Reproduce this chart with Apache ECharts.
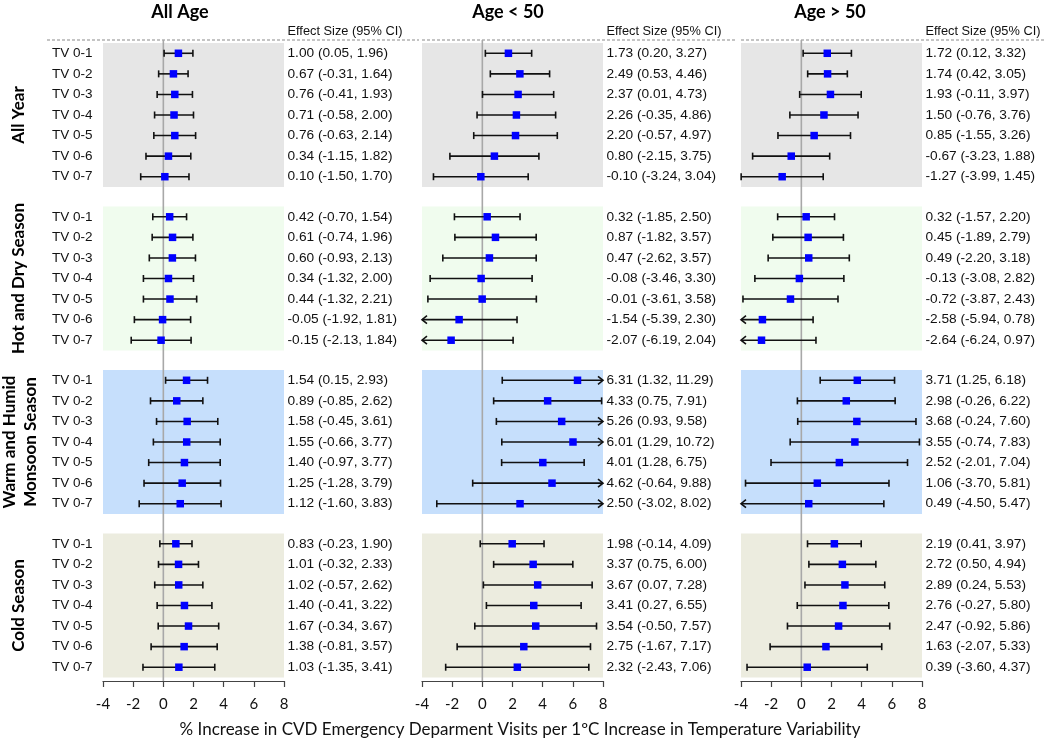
<!DOCTYPE html>
<html><head><meta charset="utf-8">
<script src="https://cdn.jsdelivr.net/npm/echarts@6/dist/echarts.min.js"></script>
<style>html,body{margin:0;padding:0;background:#fff}#c{width:1050px;height:739px}</style>
</head><body><div id="c"></div>
<script>
// ---------- data ----------
const panelTitles = ['All Age', 'Age < 50', 'Age > 50'];
const seasonLabels = [['All Year'], ['Hot and Dry Season'], ['Warm and Humid', 'Monsoon Season'], ['Cold Season']];
const lagLabels = ['TV 0-1', 'TV 0-2', 'TV 0-3', 'TV 0-4', 'TV 0-5', 'TV 0-6', 'TV 0-7'];
const xTicks = [-4, -2, 0, 2, 4, 6, 8];
const headerText = 'Effect Size (95% CI)';
const axisTitle = '% Increase in CVD Emergency Deparment Visits per 1\u00BAC Increase in Temperature Variability';

// [estimate, lower, upper]
const allAge_allYear = [[1.00,0.05,1.96],[0.67,-0.31,1.64],[0.76,-0.41,1.93],[0.71,-0.58,2.00],[0.76,-0.63,2.14],[0.34,-1.15,1.82],[0.10,-1.50,1.70]];
const allAge_hotDry  = [[0.42,-0.70,1.54],[0.61,-0.74,1.96],[0.60,-0.93,2.13],[0.34,-1.32,2.00],[0.44,-1.32,2.21],[-0.05,-1.92,1.81],[-0.15,-2.13,1.84]];
const allAge_warm    = [[1.54,0.15,2.93],[0.89,-0.85,2.62],[1.58,-0.45,3.61],[1.55,-0.66,3.77],[1.40,-0.97,3.77],[1.25,-1.28,3.79],[1.12,-1.60,3.83]];
const allAge_cold    = [[0.83,-0.23,1.90],[1.01,-0.32,2.33],[1.02,-0.57,2.62],[1.40,-0.41,3.22],[1.67,-0.34,3.67],[1.38,-0.81,3.57],[1.03,-1.35,3.41]];

const under50_allYear = [[1.73,0.20,3.27],[2.49,0.53,4.46],[2.37,0.01,4.73],[2.26,-0.35,4.86],[2.20,-0.57,4.97],[0.80,-2.15,3.75],[-0.10,-3.24,3.04]];
const under50_hotDry  = [[0.32,-1.85,2.50],[0.87,-1.82,3.57],[0.47,-2.62,3.57],[-0.08,-3.46,3.30],[-0.01,-3.61,3.58],[-1.54,-5.39,2.30],[-2.07,-6.19,2.04]];
const under50_warm    = [[6.31,1.32,11.29],[4.33,0.75,7.91],[5.26,0.93,9.58],[6.01,1.29,10.72],[4.01,1.28,6.75],[4.62,-0.64,9.88],[2.50,-3.02,8.02]];
const under50_cold    = [[1.98,-0.14,4.09],[3.37,0.75,6.00],[3.67,0.07,7.28],[3.41,0.27,6.55],[3.54,-0.50,7.57],[2.75,-1.67,7.17],[2.32,-2.43,7.06]];

const over50_allYear = [[1.72,0.12,3.32],[1.74,0.42,3.05],[1.93,-0.11,3.97],[1.50,-0.76,3.76],[0.85,-1.55,3.26],[-0.67,-3.23,1.88],[-1.27,-3.99,1.45]];
const over50_hotDry  = [[0.32,-1.57,2.20],[0.45,-1.89,2.79],[0.49,-2.20,3.18],[-0.13,-3.08,2.82],[-0.72,-3.87,2.43],[-2.58,-5.94,0.78],[-2.64,-6.24,0.97]];
const over50_warm    = [[3.71,1.25,6.18],[2.98,-0.26,6.22],[3.68,-0.24,7.60],[3.55,-0.74,7.83],[2.52,-2.01,7.04],[1.06,-3.70,5.81],[0.49,-4.50,5.47]];
const over50_cold    = [[2.19,0.41,3.97],[2.72,0.50,4.94],[2.89,0.24,5.53],[2.76,-0.27,5.80],[2.47,-0.92,5.86],[1.63,-2.07,5.33],[0.39,-3.60,4.37]];

const panelData = [
  [allAge_allYear, allAge_hotDry, allAge_warm, allAge_cold],
  [under50_allYear, under50_hotDry, under50_warm, under50_cold],
  [over50_allYear, over50_hotDry, over50_warm, over50_cold]
];

// ---------- layout / style ----------
const xMin = xTicks[0], xMax = xTicks[xTicks.length - 1];
const panelLeft = [103, 422, 741];
const panelW = 181;
const seasonTop0 = 43, seasonStep = 163.5, seasonH = 144;
const axisTop = 40, axisBottomY = 681;
const seasonBg = ['#E6E6E6', '#F0FCEE', '#C6DFFC', '#ECECDF'];
const numFont = '"Liberation Sans", Arial, sans-serif';
const calFont = 'Lato, "Open Sans", sans-serif';

function fmt(v) { return v.toFixed(2); }

const grids = [], xAxes = [], yAxes = [], series = [];

function renderCI(params, api) {
  const est = api.value(0), lo = api.value(1), hi = api.value(2), row = api.value(3);
  const y = api.coord([0, row])[1];
  const xl = api.coord([Math.max(lo, xMin), row])[0];
  const xr = api.coord([Math.min(hi, xMax), row])[0];
  const xe = api.coord([est, row])[0];
  const st = { stroke: '#111', lineWidth: 1.6, fill: null };
  const ch = [{ type: 'line', shape: { x1: xl, y1: y, x2: xr, y2: y }, style: st }];
  if (lo < xMin) ch.push({ type: 'polyline', shape: { points: [[xl + 5, y - 4], [xl, y], [xl + 5, y + 4]] }, style: st });
  else ch.push({ type: 'line', shape: { x1: xl, y1: y - 3.5, x2: xl, y2: y + 3.5 }, style: st });
  if (hi > xMax) ch.push({ type: 'polyline', shape: { points: [[xr - 5, y - 4], [xr, y], [xr - 5, y + 4]] }, style: st });
  else ch.push({ type: 'line', shape: { x1: xr, y1: y - 3.5, x2: xr, y2: y + 3.5 }, style: st });
  ch.push({ type: 'rect', shape: { x: xe - 3.75, y: y - 3.75, width: 7.5, height: 7.5 }, style: { fill: '#0000FF' } });
  return { type: 'group', children: ch };
}

function renderZero(params, api) {
  const p0 = api.coord([0, 0]), p1 = api.coord([0, 1]);
  return { type: 'line', shape: { x1: p0[0], y1: p0[1], x2: p1[0], y2: p1[1] }, style: { stroke: '#A8A8A8', lineWidth: 1.6 } };
}

for (let p = 0; p < 3; p++) {
  for (let s = 0; s < 4; s++) {
    const gi = grids.length;
    const rows = panelData[p][s];
    grids.push({ left: panelLeft[p], width: panelW, top: seasonTop0 + s * seasonStep, height: seasonH,
      show: true, backgroundColor: seasonBg[s], borderWidth: 0, containLabel: false });
    xAxes.push({ gridIndex: gi, type: 'value', min: xMin, max: xMax, show: false });
    const yl = yAxes.length;
    yAxes.push({ gridIndex: gi, type: 'category', inverse: true, data: lagLabels, position: 'left',
      axisLine: { show: false }, axisTick: { show: false }, splitLine: { show: false },
      axisLabel: { show: p === 0, align: 'left', margin: 51, fontSize: 13.5, color: '#111', fontFamily: numFont } });
    yAxes.push({ gridIndex: gi, type: 'category', inverse: true, position: 'right',
      data: rows.map(r => fmt(r[0]) + ' (' + fmt(r[1]) + ', ' + fmt(r[2]) + ')'),
      axisLine: { show: false }, axisTick: { show: false }, splitLine: { show: false },
      axisLabel: { show: true, align: 'left', margin: 3.5, fontSize: 13.7, color: '#111', fontFamily: numFont } });
    series.push({ type: 'custom', xAxisIndex: gi, yAxisIndex: yl, z: 5, clip: false, silent: true,
      renderItem: renderCI, encode: { x: [0, 1, 2], y: 3 },
      data: rows.map((r, i) => [r[0], r[1], r[2], i]) });
  }
}

for (let p = 0; p < 3; p++) {
  const gi = grids.length;
  grids.push({ left: panelLeft[p], width: panelW, top: axisTop, height: axisBottomY - axisTop, show: false });
  xAxes.push({ gridIndex: gi, type: 'value', min: xMin, max: xMax, interval: xTicks[1] - xTicks[0], position: 'bottom',
    axisLine: { show: true, lineStyle: { color: '#444', width: 1.2 } },
    axisTick: { show: true, length: 6, lineStyle: { color: '#444', width: 1.2 } },
    splitLine: { show: false },
    axisLabel: { fontSize: 15, color: '#111', margin: 16, fontFamily: calFont } });
  const yi = yAxes.length;
  yAxes.push({ gridIndex: gi, type: 'value', min: 0, max: 1, show: false });
  series.push({ type: 'custom', xAxisIndex: gi, yAxisIndex: yi, z: 3, clip: false, silent: true,
    renderItem: renderZero, data: [[0, 0]] });
}

const graphics = [];
panelTitles.forEach((t, p) => {
  const cx = [180, 508, 830][p];
  graphics.push({ type: 'text', x: cx, y: 12, style: { text: t, font: 'bold 18px ' + calFont, fill: '#000', textAlign: 'center', textVerticalAlign: 'middle' } });
  graphics.push({ type: 'text', x: panelLeft[p] + panelW + 3.5, y: 31, style: { text: headerText, font: '12.8px ' + numFont, fill: '#111', textAlign: 'left', textVerticalAlign: 'middle' } });
});
[[47, 419], [422, 737], [741, 1045]].forEach(seg => {
  graphics.push({ type: 'line', shape: { x1: seg[0], y1: 40, x2: seg[1], y2: 40 }, style: { stroke: '#8A8A8A', lineWidth: 1.2, lineDash: [3, 2] } });
});
seasonLabels.forEach((lines, s) => {
  const cy = seasonTop0 + s * seasonStep + seasonH / 2;
  if (lines.length === 1) {
    graphics.push({ type: 'text', x: 19, y: cy, rotation: Math.PI / 2,
      style: { text: lines[0], font: 'bold 17px ' + calFont, fill: '#000', textAlign: 'center', textVerticalAlign: 'middle' } });
  } else {
    graphics.push({ type: 'text', x: 10, y: cy, rotation: Math.PI / 2,
      style: { text: lines[0], font: 'bold 17px ' + calFont, fill: '#000', textAlign: 'center', textVerticalAlign: 'middle' } });
    graphics.push({ type: 'text', x: 31, y: cy, rotation: Math.PI / 2,
      style: { text: lines[1], font: 'bold 17px ' + calFont, fill: '#000', textAlign: 'center', textVerticalAlign: 'middle' } });
  }
});
graphics.push({ type: 'text', x: 520, y: 730, style: { text: axisTitle, font: '17px ' + calFont, fill: '#111', textAlign: 'center', textVerticalAlign: 'middle' } });

const chart = echarts.init(document.getElementById('c'), null, { renderer: 'canvas' });
chart.setOption({
  animation: false,
  backgroundColor: '#fff',
  grid: grids, xAxis: xAxes, yAxis: yAxes, series: series, graphic: graphics
});
</script></body></html>
